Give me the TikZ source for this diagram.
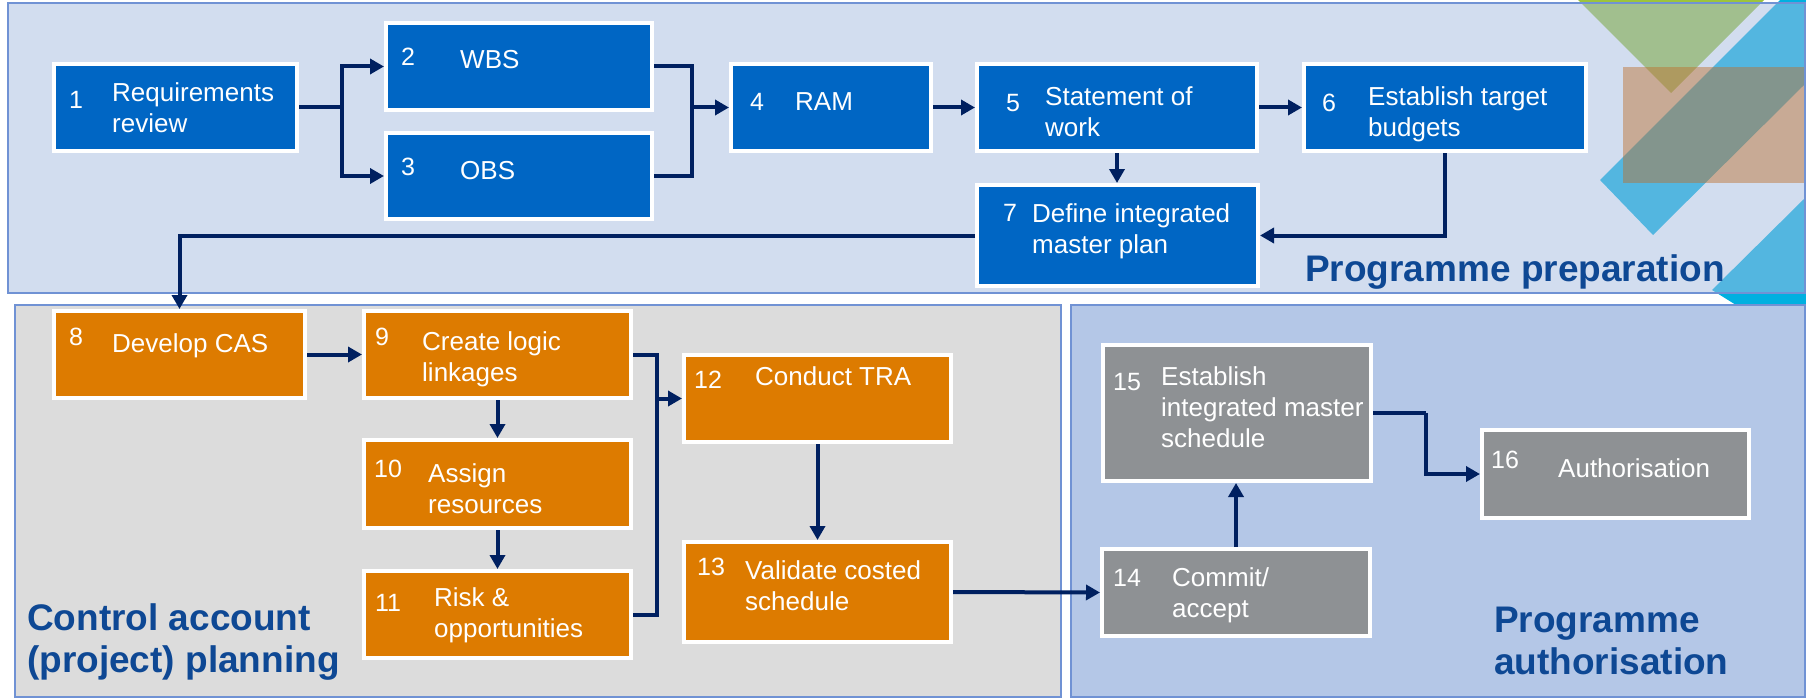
\documentclass[tikz,border=0pt]{standalone}
\usepackage{fontspec}
\setmainfont{Liberation Sans}
\usetikzlibrary{arrows.meta}

\definecolor{prepfill}{RGB}{167,189,225}
\definecolor{panelline}{RGB}{112,146,212}
\definecolor{cafill}{RGB}{220,220,220}
\definecolor{authfill}{RGB}{180,199,231}
\definecolor{boxblue}{RGB}{0,102,196}
\definecolor{boxorange}{RGB}{221,123,0}
\definecolor{boxgray}{RGB}{142,145,148}
\definecolor{navy}{RGB}{0,32,96}
\definecolor{phaseblue}{RGB}{14,72,148}
\definecolor{decgreen}{RGB}{156,195,60}
\definecolor{deccyan}{RGB}{0,176,224}
\definecolor{decbrown}{RGB}{190,110,40}

\newcommand\linesof[1]{\begin{tabular}[t]{@{}l@{}}#1\end{tabular}}

\begin{document}
\begin{tikzpicture}[x=1pt,y=-1pt,
  stepbox/.style={draw=white, line width=4pt, inner sep=0pt},
  bluebox/.style={stepbox, fill=boxblue},
  orangebox/.style={stepbox, fill=boxorange},
  graybox/.style={stepbox, fill=boxgray},
  num/.style={text=white, font=\fontsize{25}{30}\selectfont, inner sep=0pt},
  lbl/.style={text=white, font=\fontsize{26}{31}\selectfont, inner sep=0pt, anchor=base west},
  flow/.style={draw=navy, line width=4pt},
  arr/.style={flow, -{Triangle[length=14pt,width=15pt]}},
  phase/.style={text=phaseblue, font=\bfseries\fontsize{37}{42.5}\selectfont, inner sep=0pt, anchor=base west},
  panel/.style={draw=panelline, line width=1.5pt}
]
\useasboundingbox (0,0) rectangle (1806,698);
\fill[white] (0,0) rectangle (1806,698);

% corner ornament behind the preparation panel
\fill[decgreen] (1578,0) -- (1764,0) -- (1671,93) -- cycle;
\fill[deccyan] (1600,180) -- (1780,0) -- (1806,0) -- (1806,83) -- (1653,235) -- cycle;
\fill[deccyan] (1806,197) -- (1712,290) -- (1736,305) -- (1806,305) -- cycle;

% phase panels
\fill[prepfill, opacity=0.5] (8,3) rectangle (1805,293);
\fill[decbrown, opacity=0.45] (1623,67) rectangle (1805,183);
\draw[panel] (8,3) rectangle (1805,293);
\draw[panel, fill=cafill] (15,305) rectangle (1061,697);
\draw[panel, fill=authfill] (1071,305) rectangle (1805,697);

% programme preparation steps
\node[bluebox, minimum width=243, minimum height=87] (b1) at (175.5,107.5) {};
\node[bluebox, minimum width=266, minimum height=87] (b2) at (519,66.5) {};
\node[bluebox, minimum width=266, minimum height=86] (b3) at (519,176) {};
\node[bluebox, minimum width=200, minimum height=87] (b4) at (831,107.5) {};
\node[bluebox, minimum width=280, minimum height=87] (b5) at (1117,107.5) {};
\node[bluebox, minimum width=282, minimum height=87] (b6) at (1445,107.5) {};
\node[bluebox, minimum width=281, minimum height=101] (b7) at (1117.5,235.5) {};

% control account planning steps
\node[orangebox, minimum width=251, minimum height=87] (b8) at (179.5,354.5) {};
\node[orangebox, minimum width=267, minimum height=87] (b9) at (497.5,354.5) {};
\node[orangebox, minimum width=267, minimum height=88] (b10) at (497.5,484) {};
\node[orangebox, minimum width=267, minimum height=87] (b11) at (497.5,614.5) {};
\node[orangebox, minimum width=267, minimum height=87] (b12) at (817.5,398.5) {};
\node[orangebox, minimum width=267, minimum height=100] (b13) at (817.5,592) {};

% programme authorisation steps
\node[graybox, minimum width=268, minimum height=87] (b14) at (1236,592.5) {};
\node[graybox, minimum width=268, minimum height=136] (b15) at (1237,413) {};
\node[graybox, minimum width=267, minimum height=88] (b16) at (1615.5,474) {};

% step numbers
\node[num] (n1) at (76,100) {1};
\node[num] (n2) at (408,57) {2};
\node[num] (n3) at (408,167) {3};
\node[num] (n4) at (757,102) {4};
\node[num] (n5) at (1013,103) {5};
\node[num] (n6) at (1329,103) {6};
\node[num] (n7) at (1010,213) {7};
\node[num] (n8) at (76,337) {8};
\node[num] (n9) at (382,337) {9};
\node[num] (n10) at (388,469) {10};
\node[num] (n11) at (388,603) {11};
\node[num] (n12) at (708,380) {12};
\node[num] (n13) at (711,567) {13};
\node[num] (n14) at (1127,578) {14};
\node[num] (n15) at (1127,382) {15};
\node[num] (n16) at (1505,460) {16};

% step labels
\node[lbl] (t1) at (112,102) {\linesof{Requirements\\review}};
\node[lbl] (t2) at (460,69) {WBS};
\node[lbl] (t3) at (460,179) {OBS};
\node[lbl] (t4) at (795,111) {RAM};
\node[lbl] (t5) at (1045,106) {\linesof{Statement of\\work}};
\node[lbl] (t6) at (1368,106) {\linesof{Establish target\\budgets}};
\node[lbl] (t7) at (1032,222) {\linesof{Define integrated\\master plan}};
\node[lbl] (t8) at (112,352) {Develop CAS};
\node[lbl] (t9) at (422,350) {\linesof{Create logic\\linkages}};
\node[lbl] (t10) at (428,482) {\linesof{Assign\\resources}};
\node[lbl] (t11) at (434,606) {\linesof{Risk \&\\opportunities}};
\node[lbl] (t12) at (755,385) {Conduct TRA};
\node[lbl] (t13) at (745,579) {\linesof{Validate costed\\schedule}};
\node[lbl] (t14) at (1172,586) {\linesof{Commit/\\accept}};
\node[lbl] (t15) at (1161,385) {\linesof{Establish\\integrated master\\schedule}};
\node[lbl] (t16) at (1558,477) {Authorisation};

% phase titles
\node[phase] (p1) at (1305,281) {Programme preparation};
\node[phase] (p2) at (27,630) {\linesof{Control account\\(project) planning}};
\node[phase] (p3) at (1494,632) {\linesof{Programme\\authorisation}};

% junction points
\coordinate (j1) at (342,107.5);
\coordinate (j2) at (692,107.5);
\coordinate (j3) at (657,398.5);
\coordinate (j4) at (1426,413);

% connectors
\draw[flow] (b1.east) -- (j1);
\draw[arr] (j1) |- (b2.west);
\draw[arr] (j1) |- (b3.west);
\draw[flow] (b2.east) -| (j2);
\draw[flow] (b3.east) -| (j2);
\draw[arr] (j2) -- (b4.west);
\draw[arr] (b4.east) -- (b5.west);
\draw[arr] (b5.east) -- (b6.west);
\draw[arr] (b5.south) -- (b5.south |- b7.north);
\draw[arr] (b6.south) |- (b7.east);
\draw[arr] (b7.west) -| (b8.north);
\draw[arr] (b8.east) -- (b9.west);
\draw[arr] (b9.south) -- (b10.north);
\draw[arr] (b10.south) -- (b11.north);
\draw[flow] (b9.east) -| (j3);
\draw[flow] (b11.east) -| (j3);
\draw[arr] (j3) -- (b12.west);
\draw[arr] (b12.south) -- (b13.north);
\draw[arr] (b13.east) -- (b14.west);
\draw[arr] (b14.north) -- (b14.north |- b15.south);
\draw[flow] (b15.east) -- (j4);
\draw[arr] (j4) |- (b16.west);
\end{tikzpicture}
\end{document}
